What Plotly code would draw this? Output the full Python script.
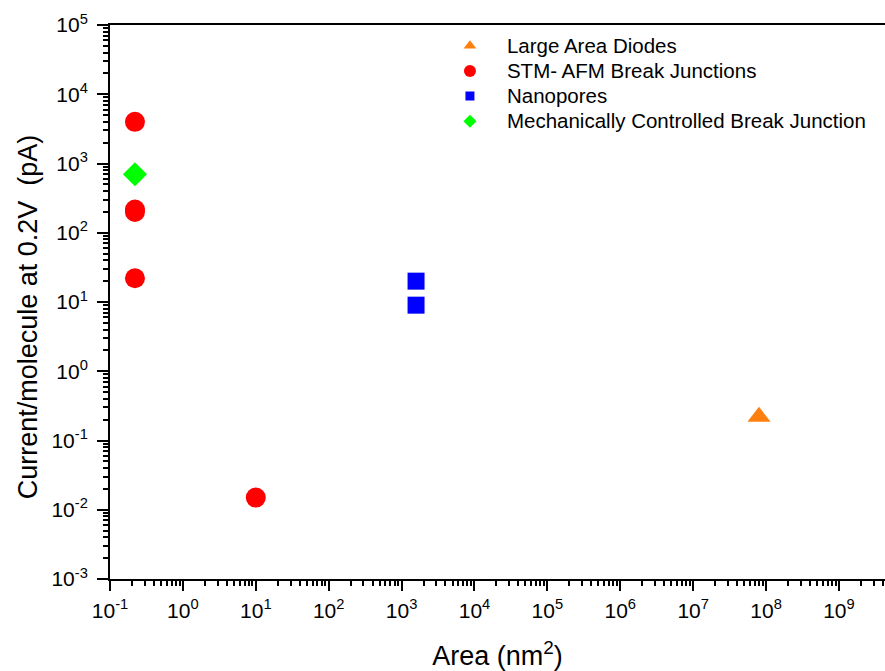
import plotly.graph_objects as go

# Data
diodes_x = [8.0e7]
diodes_y = [0.22]
stm_x = [0.22, 0.22, 0.22, 0.22, 10]
stm_y = [4000, 200, 217, 22, 0.015]
nano_x = [1580, 1580]
nano_y = [20, 9]
mcbj_x = [0.22]
mcbj_y = [700]

x_decades = list(range(-1, 10))
y_decades = list(range(-3, 6))
x_ticktext = [f"10<sup>{d}</sup>" for d in x_decades]
y_ticktext = [f"10<sup>{d}</sup>" for d in y_decades]

x_minor = [k * 10.0 ** d for d in range(-1, 10) for k in range(2, 10)]
y_minor = [k * 10.0 ** d for d in range(-3, 5) for k in range(2, 10)]

FONT = "Liberation Sans, Arial"

fig = go.Figure()
fig.add_trace(go.Scatter(x=diodes_x, y=diodes_y, mode="markers", showlegend=False,
                         marker=dict(symbol="triangle-up", size=20, color="#ff7f0e")))
fig.add_trace(go.Scatter(x=stm_x, y=stm_y, mode="markers", showlegend=False,
                         marker=dict(symbol="circle", size=20, color="#ff0000")))
fig.add_trace(go.Scatter(x=nano_x, y=nano_y, mode="markers", showlegend=False,
                         marker=dict(symbol="square", size=17, color="#0000ff")))
fig.add_trace(go.Scatter(x=mcbj_x, y=mcbj_y, mode="markers", showlegend=False,
                         marker=dict(symbol="diamond", size=18.5, color="#00ff00")))

# legend entries
legend_items = [("Large Area Diodes", "triangle-up", "#ff7f0e", 11),
                ("STM- AFM Break Junctions", "circle", "#ff0000", 12),
                ("Nanopores", "square", "#0000ff", 9),
                ("Mechanically Controlled Break Junction", "diamond", "#00ff00", 10)]
for name, sym, col, sz in legend_items:
    fig.add_trace(go.Scatter(x=[None], y=[None], mode="markers",
                             name=f'<span style="font-size:20.5px">{name}</span>',
                             marker=dict(symbol=sym, size=sz, color=col)))

axis_common = dict(showline=True, linecolor="black", linewidth=2,
                   ticks="outside", tickwidth=2, tickcolor="black",
                   showgrid=False, zeroline=False, automargin=False,
                   tickfont=dict(family=FONT, size=21, color="black"))

fig.update_xaxes(type="log", range=[-1, 9.632], tickmode="array", mirror=True,
                 tickvals=[10.0 ** d for d in x_decades], ticktext=x_ticktext,
                 ticklen=10, ticklabelstandoff=2,
                 minor=dict(tickmode="array", tickvals=x_minor, ticks="outside",
                            ticklen=5, tickwidth=2, tickcolor="black", showgrid=False),
                 title=dict(text="Area (nm<sup>2</sup>)", standoff=27,
                            font=dict(family=FONT, size=27, color="black")),
                 **axis_common)
fig.update_yaxes(type="log", range=[-3, 5], tickmode="array", mirror=False,
                 tickvals=[10.0 ** d for d in y_decades], ticktext=y_ticktext,
                 ticklen=11, ticklabelstandoff=5,
                 minor=dict(tickmode="array", tickvals=y_minor, ticks="outside",
                            ticklen=5, tickwidth=2, tickcolor="black", showgrid=False),
                 title=dict(text="Current/molecule at 0.2V&nbsp; (pA)&nbsp;&nbsp;&nbsp;&nbsp;", standoff=6,
                            font=dict(family=FONT, size=27, color="black")),
                 **axis_common)

fig.update_layout(
    width=885, height=671,
    margin=dict(l=110, r=0, t=25, b=92),
    plot_bgcolor="white", paper_bgcolor="white",
    legend=dict(x=0.4167, y=0.994, xanchor="left", yanchor="top", itemwidth=64,
                bgcolor="rgba(0,0,0,0)", tracegroupgap=0,
                font=dict(family=FONT, size=17, color="black")),
    font=dict(family=FONT),
)

fig.write_html("out.html")
